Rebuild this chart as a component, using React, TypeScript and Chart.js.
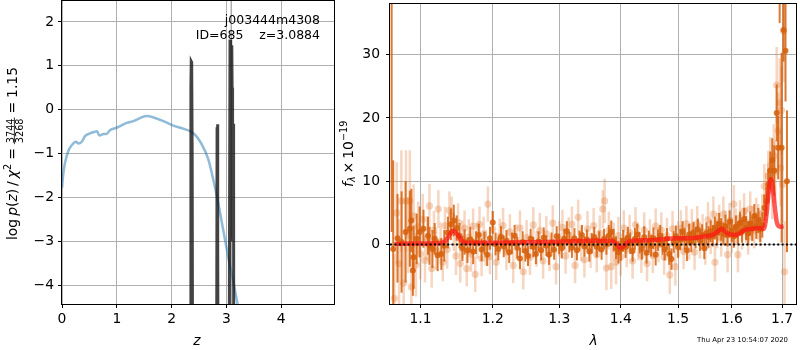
import React, { useEffect, useRef } from "react";
import { Chart, registerables } from "chart.js";
Chart.register(...registerables);

const FONT = "'DejaVu Sans', sans-serif";

// ---------- left panel data ----------
const zTicks = [0, 1, 2, 3, 4];
const logpTicks = [-4, -3, -2, -1, 0, 1, 2];
const chi2Z = [0.0, 0.02, 0.055, 0.115, 0.177, 0.255, 0.3, 0.36, 0.42, 0.51, 0.6, 0.64, 0.68, 0.755, 0.815, 0.876, 0.997, 1.18, 1.3, 1.48, 1.54, 1.66, 1.85, 2.03, 2.21, 2.37, 2.45, 2.55, 2.67, 2.76, 2.85, 2.94, 3.03, 3.13, 3.2, 3.3];
const chi2V = [-1.78, -1.5, -1.21, -0.94, -0.81, -0.73, -0.77, -0.73, -0.6, -0.54, -0.5, -0.49, -0.585, -0.555, -0.55, -0.465, -0.41, -0.3, -0.26, -0.16, -0.145, -0.17, -0.26, -0.36, -0.43, -0.51, -0.6, -0.79, -1.13, -1.59, -2.12, -2.73, -3.33, -3.94, -4.41, -5.1];
const pzZ = [2.3, 2.345, 2.352, 2.358, 2.366, 2.375, 2.4, 2.8, 2.83, 2.837, 2.845, 2.87, 3.03, 3.058, 3.066, 3.074, 3.082, 3.09, 3.098, 3.104, 3.112, 3.122, 3.128, 3.134, 3.14, 3.2];
const pzV = [-20, -6, 0.5, 1.1, 1.08, -1, -20, -20, -0.4, -0.33, -3, -20, -20, -2, 1.6, 1.2, -0.1, -0.45, 1.47, 0.5, -3, -2, -0.32, -1.5, -20, -20];
const bestZ = 3.0884;
const objName = "j003444m4308";
const objInfo = "ID=685    z=3.0884";

// ---------- right panel data ----------
const lamTicks = [1.1, 1.2, 1.3, 1.4, 1.5, 1.6, 1.7];
const fluxTicks = [0, 10, 20, 30];
const darkX = [1.0625, 1.0645, 1.07, 1.0753, 1.0805, 1.086, 1.088, 1.09, 1.091, 1.095, 1.099, 1.104, 1.11, 1.112, 1.116, 1.119, 1.123, 1.128, 1.132, 1.137, 1.141, 1.145, 1.149, 1.153, 1.157, 1.16, 1.164, 1.168, 1.172, 1.176, 1.18, 1.184, 1.188, 1.192, 1.196, 1.2, 1.204, 1.208, 1.212, 1.216, 1.22, 1.224, 1.228, 1.232, 1.236, 1.24, 1.244, 1.248, 1.252, 1.256, 1.26, 1.264, 1.268, 1.272, 1.276, 1.28, 1.284, 1.288, 1.292, 1.296, 1.3, 1.304, 1.308, 1.312, 1.316, 1.32, 1.324, 1.328, 1.332, 1.336, 1.34, 1.344, 1.348, 1.352, 1.356, 1.36, 1.364, 1.368, 1.372, 1.376, 1.38, 1.384, 1.388, 1.392, 1.396, 1.4, 1.404, 1.408, 1.412, 1.416, 1.42, 1.424, 1.428, 1.432, 1.436, 1.44, 1.444, 1.448, 1.452, 1.456, 1.46, 1.464, 1.468, 1.472, 1.476, 1.48, 1.484, 1.488, 1.492, 1.496, 1.5, 1.504, 1.508, 1.512, 1.516, 1.52, 1.524, 1.528, 1.532, 1.536, 1.54, 1.544, 1.548, 1.552, 1.556, 1.56, 1.564, 1.568, 1.572, 1.576, 1.58, 1.584, 1.588, 1.592, 1.596, 1.6, 1.604, 1.608, 1.612, 1.616, 1.62, 1.624, 1.628, 1.632, 1.636, 1.64, 1.644, 1.648, 1.652, 1.656, 1.66, 1.664, 1.668, 1.672, 1.676, 1.68, 1.684, 1.689, 1.692, 1.695, 1.699, 1.703, 1.707, 1.71];
const darkY = [40, -0.7, 1.0, 0.4, 2.0, 2.5, 3.8, -4.1, -2.0, 0.9, 2.0, 2.5, 1.4, -0.2, -0.7, 0.9, -1.7, -1.5, -0.2, 1.9, 3.2, 3.8, 2.6, 1.4, -0.6, 0.4, -0.9, 0.8, -1.1, 0.3, 1.5, -0.8, 0.2, -1.6, 1.0, 3.5, 0.1, -0.7, 1.2, -0.3, 0.6, -1.2, 0.2, 1.4, -0.5, -2.2, 0.4, -1.0, -1.8, 0.9, -0.4, -1.5, 0.5, -0.9, 1.1, -0.2, -1.6, 0.3, -0.8, 1.3, 0.1, -0.6, 0.9, 2.1, 0.4, -0.5, 1.0, -0.9, 0.6, 1.5, -0.3, 0.8, -1.1, 0.2, 1.2, -0.4, 0.5, -0.8, 0.9, 0.0, 1.4, 2.0, 0.7, -0.5, -1.2, -0.8, 0.6, -0.4, 1.1, 0.2, -1.0, 0.9, 1.6, 0.3, -0.7, 1.2, -1.3, 0.5, -0.2, 1.0, -1.6, 0.7, 1.4, 0.1, -0.8, 0.9, -1.5, -2.3, 0.4, 1.3, -0.4, 0.8, 2.0, 1.0, -0.9, 1.6, 0.5, 1.9, 1.1, 2.4, 0.7, 1.5, -0.6, 1.8, 1.2, 2.1, 1.4, 2.6, 1.9, 3.2, 2.4, 1.7, 2.9, 1.5, 3.6, 2.2, 1.3, 2.8, 1.9, 3.4, 2.1, 4.0, 2.6, 1.8, 3.3, 2.5, 4.5, 2.9, 3.8, 2.4, 3.1, 5.8, 6.8, 9.5, 11.7, 13.3, 11.7, 20.8, 15.3, 40, 15.3, 33.9, 30.6, 10];
const darkE = [38, 14, 7, 8, 8, 6, 5, 4, 5, 4, 4, 3, 3, 3, 3, 2.5, 2.5, 2.5, 2.5, 2.5, 2.5, 2.5, 2, 2, 2, 2, 2, 2, 2, 1.8, 1.8, 1.8, 1.8, 1.8, 1.8, 1.8, 1.8, 1.8, 1.7, 1.7, 1.7, 1.7, 1.7, 1.7, 1.7, 1.7, 1.7, 1.7, 1.6, 1.6, 1.6, 1.6, 1.6, 1.6, 1.6, 1.6, 1.6, 1.6, 1.6, 1.6, 1.6, 1.6, 1.6, 1.6, 1.6, 1.6, 1.6, 1.6, 1.6, 1.6, 1.6, 1.6, 1.6, 1.6, 1.6, 1.6, 1.6, 1.6, 1.6, 1.6, 1.7, 1.8, 1.8, 1.8, 1.8, 1.8, 1.7, 1.7, 1.7, 1.7, 1.7, 1.7, 1.7, 1.7, 1.7, 1.7, 1.7, 1.7, 1.7, 1.7, 1.7, 1.7, 1.7, 1.7, 1.7, 1.7, 1.7, 1.7, 1.7, 1.7, 1.7, 1.7, 1.7, 1.7, 1.7, 1.7, 1.7, 1.7, 1.7, 1.7, 1.7, 1.7, 1.7, 1.7, 1.7, 1.7, 1.7, 1.8, 1.8, 1.8, 1.8, 1.8, 1.8, 1.8, 1.8, 1.8, 1.8, 1.8, 1.8, 1.8, 1.8, 1.8, 1.9, 1.9, 1.9, 1.9, 1.9, 2.0, 2.0, 2.0, 2.0, 2.1, 2.3, 2.5, 3, 3.5, 4, 4.5, 5, 5, 15, 5, 8, 11.2, 9.6];
const faintX = [1.066, 1.069, 1.072, 1.075, 1.078, 1.081, 1.084, 1.086, 1.088, 1.091, 1.094, 1.097, 1.1, 1.103, 1.106, 1.109, 1.112, 1.115, 1.118, 1.121, 1.124, 1.127, 1.13, 1.133, 1.136, 1.139, 1.142, 1.145, 1.148, 1.151, 1.154, 1.157, 1.16, 1.163, 1.166, 1.169, 1.172, 1.175, 1.178, 1.181, 1.184, 1.187, 1.19, 1.193, 1.196, 1.2, 1.205, 1.21, 1.215, 1.22, 1.225, 1.23, 1.235, 1.24, 1.245, 1.25, 1.255, 1.26, 1.265, 1.27, 1.275, 1.28, 1.285, 1.29, 1.295, 1.3, 1.305, 1.31, 1.315, 1.32, 1.325, 1.33, 1.335, 1.34, 1.345, 1.35, 1.355, 1.36, 1.365, 1.37, 1.373, 1.376, 1.38, 1.384, 1.388, 1.392, 1.396, 1.4, 1.405, 1.41, 1.415, 1.42, 1.425, 1.43, 1.435, 1.44, 1.445, 1.45, 1.455, 1.46, 1.465, 1.47, 1.475, 1.48, 1.485, 1.49, 1.495, 1.5, 1.505, 1.51, 1.515, 1.52, 1.525, 1.53, 1.535, 1.54, 1.545, 1.55, 1.555, 1.56, 1.565, 1.568, 1.572, 1.576, 1.58, 1.584, 1.588, 1.592, 1.596, 1.6, 1.604, 1.608, 1.612, 1.616, 1.62, 1.624, 1.628, 1.632, 1.636, 1.64, 1.644, 1.648, 1.652, 1.656, 1.66, 1.664, 1.668, 1.672, 1.676, 1.68, 1.683, 1.686, 1.689, 1.692, 1.695, 1.697, 1.699, 1.701, 1.703, 1.705];
const faintY = [-8.5, 5.0, -3.0, 6.9, -6.1, 6.9, 1.5, 6.9, -6.7, 4.5, -3.2, 2.8, -1.5, 4.0, -2.5, 1.0, 6.1, -3.8, 2.3, -1.0, 5.6, 0.5, -2.8, 3.0, -0.8, 5.4, 4.6, 2.0, -1.8, 3.5, -3.0, 0.8, 2.6, -3.8, 1.2, -1.5, 2.9, -4.7, 0.6, 3.2, -2.2, 1.6, -0.5, 6.4, -1.9, 2.4, -2.8, 1.3, 3.0, -1.2, 2.0, -3.3, 0.4, 2.6, -4.3, 1.1, -2.0, 3.1, -0.7, 2.2, -2.6, 1.7, -1.4, 3.4, -3.5, 0.9, 2.7, -1.8, 1.5, 3.2, -3.3, 4.3, 0.2, -2.4, 2.5, -0.9, 3.0, -1.6, 1.8, 5.6, 6.9, -3.7, 2.2, -3.5, 0.5, -2.8, 1.4, -1.9, 2.6, -0.8, 1.9, -2.6, 3.1, 0.3, -1.7, 2.3, -3.0, 1.2, -1.7, 2.9, 0.0, 2.3, -2.0, 1.4, -4.8, 2.5, -3.5, 0.9, 2.6, -1.1, 3.3, 0.4, 2.8, -1.2, 3.3, 0.6, 2.0, -0.4, 3.9, 1.3, 4.8, -2.8, 2.2, 3.5, 0.9, 4.8, 2.6, -1.6, 3.8, 1.5, 6.4, 2.9, -1.6, 4.2, 2.0, 5.3, 3.1, 1.2, 5.6, 3.3, 2.2, 4.6, 3.6, 2.5, 5.0, 9.2, 7.4, 10.8, 12.5, 9.0, 14.0, 11.5, 25.2, 18.0, 22.4, 12.1, 21.2, 9.5, 33.7, -4.3];
const faintE = [7, 8, 7, 8, 6, 8, 6, 8, 5, 5, 5, 4, 4, 4, 3.5, 3.5, 3.5, 3, 3, 3, 3, 3, 3, 3, 3, 3, 3, 3, 3, 3, 3, 3, 2.8, 2.8, 2.8, 2.8, 2.8, 2.8, 2.8, 2.8, 2.8, 2.8, 2.8, 2.8, 2.8, 2.8, 2.8, 2.8, 2.8, 2.8, 2.8, 2.8, 2.8, 2.8, 2.8, 2.8, 2.8, 2.8, 2.8, 2.8, 2.8, 2.8, 2.8, 2.8, 2.8, 2.8, 2.8, 2.8, 2.8, 2.8, 2.8, 2.8, 2.8, 2.8, 2.8, 2.8, 2.8, 2.8, 2.8, 3, 3.5, 3.5, 3, 3.5, 3, 3.5, 3, 3, 2.8, 2.8, 2.8, 2.8, 2.8, 2.8, 2.8, 2.8, 2.8, 2.8, 2.8, 2.8, 2.8, 2.8, 2.8, 2.8, 3, 2.8, 3, 2.8, 2.8, 2.8, 2.8, 2.8, 2.8, 2.8, 2.8, 2.8, 2.8, 2.8, 2.8, 2.8, 2.8, 3, 2.8, 2.8, 2.8, 2.8, 2.8, 2.8, 2.8, 2.8, 3, 2.8, 2.8, 2.8, 2.8, 2.8, 2.8, 2.8, 2.8, 2.8, 2.8, 2.8, 2.8, 2.8, 3, 3.5, 4, 4, 4.5, 5, 5, 5, 6, 6, 7, 6, 7, 6, 8, 8];
const modelX = [1.066, 1.09, 1.12, 1.132, 1.138, 1.144, 1.15, 1.156, 1.162, 1.2, 1.25, 1.3, 1.35, 1.385, 1.393, 1.398, 1.403, 1.41, 1.42, 1.45, 1.5, 1.52, 1.55, 1.565, 1.575, 1.58, 1.588, 1.596, 1.606, 1.615, 1.625, 1.64, 1.655, 1.663, 1.668, 1.673, 1.677, 1.681, 1.685, 1.689, 1.693, 1.697, 1.703];
const modelY = [0.1, 0.15, 0.2, 0.4, 1.3, 2.2, 1.6, 0.6, 0.3, 0.3, 0.35, 0.45, 0.6, 0.55, 0.1, -0.5, -0.4, 0.3, 0.6, 0.7, 1.0, 1.0, 1.3, 1.6, 2.2, 2.5, 2.0, 1.6, 1.5, 1.7, 2.3, 2.5, 2.6, 2.5, 4.5, 8.5, 10.3, 9.0, 6.0, 3.6, 2.9, 2.8, 2.9];
const stampText = "Thu Apr 23 10:54:07 2020";

const LAM_MIN = 1.0604, LAM_MAX = 1.7287;
const F_MIN = -9.39, F_MAX = 38.0;
const Z_MIN = 0, Z_MAX = 4.963;
const P_MIN = -4.426, P_MAX = 2.478;

const minus = (v: number) => (v < 0 ? "\u2212" + Math.abs(v) : String(v));

const framePlugin = {
  id: "frame",
  afterDatasetsDraw(chart: any) {
    const { ctx, chartArea: a } = chart;
    ctx.save();
    ctx.strokeStyle = "#000";
    ctx.lineWidth = 1;
    ctx.strokeRect(Math.round(a.left) - 0.5, Math.round(a.top) - 0.5, Math.round(a.right - a.left) + 1, Math.round(a.bottom - a.top) + 1);
    ctx.restore();
  },
};

const errPlugin = {
  id: "errbars",
  beforeDatasetDraw(chart: any, args: any) {
    const ds: any = chart.data.datasets[args.index];
    if (!ds.errs) return;
    const xs = chart.scales.x, ys = chart.scales.y, a = chart.chartArea;
    const ctx = chart.ctx;
    ctx.save();
    ctx.beginPath();
    ctx.rect(a.left, a.top, a.right - a.left, a.bottom - a.top);
    ctx.clip();
    ctx.strokeStyle = ds.errColor;
    ctx.lineWidth = ds.errWidth;
    ds.data.forEach((p: any, i: number) => {
      const e = ds.errs[i];
      const px = xs.getPixelForValue(p.x);
      ctx.beginPath();
      ctx.moveTo(px, ys.getPixelForValue(p.y - e));
      ctx.lineTo(px, ys.getPixelForValue(p.y + e));
      ctx.stroke();
    });
    ctx.restore();
  },
};

const leftText = {
  id: "leftText",
  afterDraw(chart: any) {
    const ctx = chart.ctx;
    ctx.save();
    ctx.fillStyle = "#000";
    ctx.font = `12.5px ${FONT}`;
    ctx.textAlign = "right";
    ctx.textBaseline = "alphabetic";
    ctx.fillText(objName, 320, 24);
    ctx.fillText(objInfo, 320, 39);
    ctx.textAlign = "center";
    ctx.font = `italic 13.9px ${FONT}`;
    ctx.fillText("z", 197, 345);
    ctx.translate(0, 240);
    ctx.rotate(-Math.PI / 2);
    ctx.textAlign = "left";
    const base = 16.5;
    let x = 0;
    const seg = (t: string, font: string, dy = 0) => {
      ctx.font = font;
      ctx.fillText(t, x, base + dy);
      x += ctx.measureText(t).width;
    };
    const N = `13.9px ${FONT}`, I = `italic 13.9px ${FONT}`, S = `9.7px ${FONT}`;
    seg("log", N);
    x += 3;
    seg("p", I);
    seg("(", N);
    seg("z", I);
    seg(")", N);
    x += 3;
    seg("/", N);
    x += 3;
    seg("\u03c7", I);
    seg("2", S, -5.5);
    x += 4;
    seg("=", N);
    x += 4;
    ctx.font = S;
    const w1 = ctx.measureText("3744").width;
    ctx.fillText("3744", x + 1, base - 3);
    ctx.fillText("3268", x + 1, base + 6.5);
    ctx.fillRect(x, base - 2.6, w1 + 2, 0.8);
    x += w1 + 2;
    x += 4;
    seg("=", N);
    x += 4;
    seg("1.15", N);
    ctx.restore();
  },
};

const rightText = {
  id: "rightText",
  afterDraw(chart: any) {
    const ctx = chart.ctx;
    ctx.save();
    ctx.fillStyle = "#000";
    ctx.textBaseline = "alphabetic";
    ctx.font = `6.9px ${FONT}`;
    ctx.textAlign = "right";
    ctx.fillText(stampText, 788 - 335, 342);
    ctx.textAlign = "center";
    ctx.font = `italic 13.9px ${FONT}`;
    ctx.fillText("\u03bb", 593.5 - 335, 345);
    ctx.translate(0, 187);
    ctx.rotate(-Math.PI / 2);
    ctx.textAlign = "left";
    const base = 17.5;
    let x = 0;
    const seg = (t: string, font: string, dy = 0) => {
      ctx.font = font;
      ctx.fillText(t, x, base + dy);
      x += ctx.measureText(t).width;
    };
    seg("f", `italic 13.9px ${FONT}`);
    seg("\u03bb", `italic 9.7px ${FONT}`, 2.5);
    x += 3;
    seg("\u00d7", `13.9px ${FONT}`);
    x += 3;
    seg("10", `13.9px ${FONT}`);
    seg("\u221219", `9.7px ${FONT}`, -6);
    ctx.restore();
  },
};

const tickFont = { family: FONT, size: 13.9 };
const gridOpts = { color: "#b0b0b0", lineWidth: 1, tickLength: 4, tickColor: "#000", tickWidth: 1 };
const fitX = (s: any) => { s.height = 46; s.paddingLeft = 0; s.paddingRight = 0; };
const fitY = (w: number) => (s: any) => { s.width = w; s.paddingTop = 0; s.paddingBottom = 0; };

function leftConfig(): any {
  return {
    type: "scatter",
    data: {
      datasets: [
        { data: [{ x: bestZ, y: -10 }, { x: bestZ, y: 5 }], showLine: true, borderColor: "rgba(140,140,140,0.7)", borderWidth: 1.5, pointRadius: 0, order: 3, clip: 0 },
        { data: chi2Z.map((z, i) => ({ x: z, y: chi2V[i] })), showLine: true, borderColor: "rgba(31,119,180,0.5)", borderWidth: 2.5, pointRadius: 0, cubicInterpolationMode: "monotone", order: 2, clip: 0 },
        { data: pzZ.map((z, i) => ({ x: z, y: pzV[i] })), showLine: true, borderColor: "rgba(20,20,20,0.8)", borderWidth: 3, pointRadius: 0, order: 1, clip: 0 },
      ],
    },
    options: {
      animation: false,
      responsive: false,
      events: [],
      layout: { padding: { left: 0, top: 1, right: 1, bottom: 0 } },
      plugins: { legend: { display: false }, tooltip: { enabled: false } },
      scales: {
        x: {
          type: "linear", min: Z_MIN, max: Z_MAX,
          afterBuildTicks: (s: any) => { s.ticks = zTicks.map((v) => ({ value: v })); },
          afterFit: fitX,
          grid: gridOpts, border: { display: false },
          ticks: { font: tickFont, color: "#000", padding: 3, maxRotation: 0, autoSkip: false, callback: (v: any) => minus(Number(v)) },
        },
        y: {
          type: "linear", min: P_MIN, max: P_MAX,
          afterBuildTicks: (s: any) => { s.ticks = logpTicks.map((v) => ({ value: v })); },
          afterFit: fitY(62),
          grid: gridOpts, border: { display: false },
          ticks: { font: tickFont, color: "#000", padding: 4, autoSkip: false, callback: (v: any) => minus(Number(v)) },
        },
      },
    },
    plugins: [framePlugin, leftText],
  };
}

function rightConfig(): any {
  return {
    type: "scatter",
    data: {
      datasets: [
        {
          data: faintX.map((x, i) => ({ x, y: faintY[i] })), errs: faintE, errColor: "rgba(225,120,50,0.3)", errWidth: 2.5,
          pointRadius: 3.6, pointBackgroundColor: "rgba(225,120,50,0.32)", pointBorderWidth: 0, order: 4, clip: 0,
        },
        {
          data: darkX.map((x, i) => ({ x, y: darkY[i] })), errs: darkE, errColor: "rgba(214,96,12,0.85)", errWidth: 2,
          pointRadius: 3, pointBackgroundColor: "rgba(214,96,12,0.85)", pointBorderWidth: 0, order: 3, clip: 0,
        },
        {
          data: modelX.map((x, i) => ({ x, y: modelY[i] })), showLine: true, borderColor: "rgba(255,20,20,0.7)", borderWidth: 4.5,
          pointRadius: 0, cubicInterpolationMode: "monotone", order: 2, clip: 0,
        },
        {
          data: [{ x: LAM_MIN, y: 0 }, { x: LAM_MAX, y: 0 }], showLine: true, borderColor: "#000", borderWidth: 2, borderDash: [2, 2.4],
          pointRadius: 0, order: 1, clip: 0,
        },
      ],
    },
    options: {
      animation: false,
      responsive: false,
      events: [],
      layout: { padding: { left: 0, top: 1, right: 1, bottom: 0 } },
      plugins: { legend: { display: false }, tooltip: { enabled: false } },
      scales: {
        x: {
          type: "logarithmic", min: LAM_MIN, max: LAM_MAX,
          afterBuildTicks: (s: any) => { s.ticks = lamTicks.map((v) => ({ value: v })); },
          afterFit: fitX,
          grid: gridOpts, border: { display: false },
          ticks: { font: tickFont, color: "#000", padding: 3, maxRotation: 0, autoSkip: false, callback: (v: any) => Number(v).toFixed(1) },
        },
        y: {
          type: "linear", min: F_MIN, max: F_MAX,
          afterBuildTicks: (s: any) => { s.ticks = fluxTicks.map((v) => ({ value: v })); },
          afterFit: fitY(55),
          grid: gridOpts, border: { display: false },
          ticks: { font: tickFont, color: "#000", padding: 6, autoSkip: false, callback: (v: any) => minus(Number(v)) },
        },
      },
    },
    plugins: [framePlugin, errPlugin, rightText],
  };
}

export default function App() {
  const leftRef = useRef<HTMLCanvasElement>(null);
  const rightRef = useRef<HTMLCanvasElement>(null);
  useEffect(() => {
    const c1 = new Chart(leftRef.current as HTMLCanvasElement, leftConfig());
    const c2 = new Chart(rightRef.current as HTMLCanvasElement, rightConfig());
    return () => {
      c1.destroy();
      c2.destroy();
    };
  }, []);
  return (
    <div style={{ position: "fixed", left: 0, top: 0, width: 800, height: 350, background: "#fff" }}>
      <canvas ref={leftRef} width={335} height={350} style={{ position: "absolute", left: 0, top: 0, width: 335, height: 350 }} />
      <canvas ref={rightRef} width={465} height={350} style={{ position: "absolute", left: 335, top: 0, width: 465, height: 350 }} />
    </div>
  );
}
